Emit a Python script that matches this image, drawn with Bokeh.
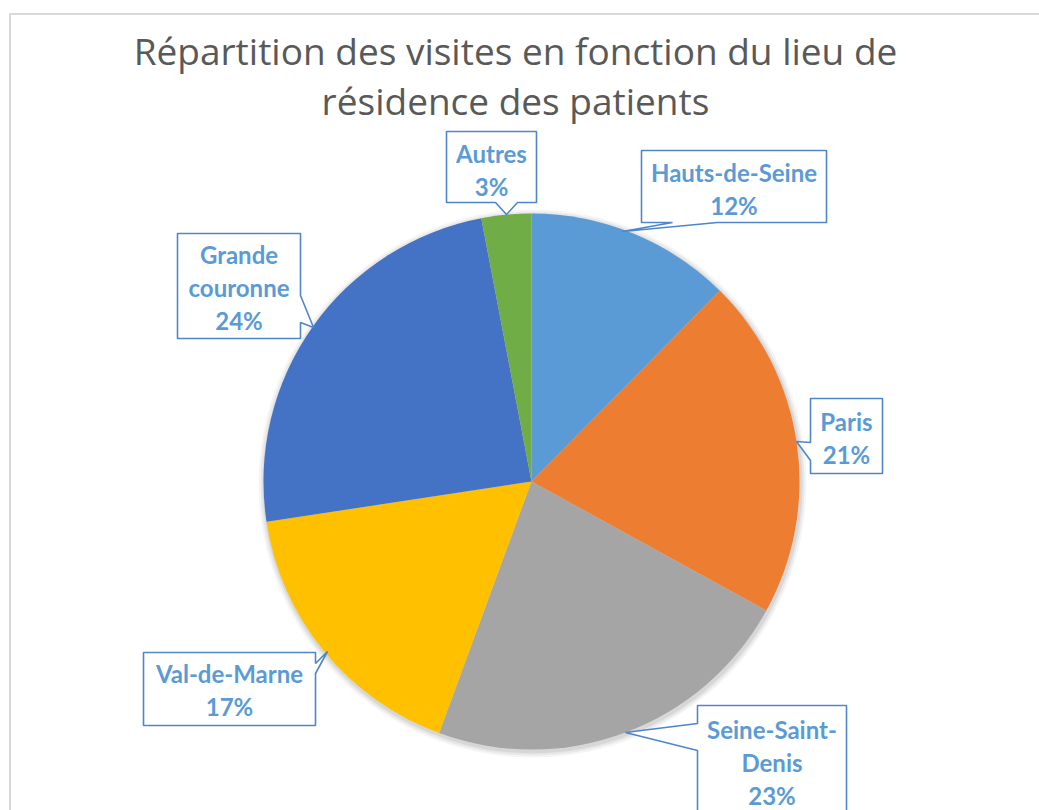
import math
from bokeh.plotting import figure
from bokeh.models import ColumnDataSource, Range1d
from bokeh.core.properties import value
from bokeh.embed import file_html
from bokeh.resources import INLINE

# ---- data ----
categories = ["Hauts-de-Seine", "Paris", "Seine-Saint-Denis", "Val-de-Marne", "Grande couronne", "Autres"]
shares = [12.4, 20.6, 22.6, 17.0, 24.4, 3.0]
colors = ["#5B9BD5", "#ED7D31", "#A5A5A5", "#FFC000", "#4472C4", "#70AD47"]
label_lines = [["Hauts-de-Seine"], ["Paris"], ["Seine-Saint-", "Denis"], ["Val-de-Marne"], ["Grande", "couronne"], ["Autres"]]
title_lines = ["Répartition des visites en fonction du lieu de", "résidence des patients"]

W, H = 1039, 810
def X(px): return px
def Y(py): return H - py

p = figure(width=W, height=H, output_backend="svg", toolbar_location=None,
           x_range=Range1d(0, W), y_range=Range1d(0, H), min_border=0)
p.axis.visible = False
p.grid.visible = False
p.outline_line_color = None
p.background_fill_color = "white"

# chart frame (top and left edges visible)
p.line([X(9.5), X(9.5), X(1039)], [Y(810), Y(13.5), Y(13.5)], line_color="#D9D9D9", line_width=2)

# pie
cx, cy, r = X(531), Y(481), 268
total = sum(shares)
starts, ends = [], []
cum = 0.0
for s in shares:
    starts.append(math.pi / 2 - 2 * math.pi * cum / total)
    cum += s
    ends.append(math.pi / 2 - 2 * math.pi * cum / total)

# soft shadow
for k, a in [(6, 0.04), (4, 0.05), (2, 0.07)]:
    p.circle(x=[cx + 1], y=[cy - 2], radius=r + k, fill_color="#000000", fill_alpha=a, line_color=None)

src = ColumnDataSource(dict(start=starts, end=ends, color=colors))
p.wedge(x=cx, y=cy, radius=r, start_angle="start", end_angle="end", direction="clock",
        fill_color="color", line_color=None, source=src)

# callouts: box (x0, y0, x1, y1) in px, side, pointer base (a, b), tip
callouts = [
    ((641, 150, 826, 222), "bottom", (672, 717), (622, 231)),
    ((810, 398, 882, 473), "left", (442, 460), (796, 441)),
    ((697, 705, 846, 830), "left", (723, 750), (625, 732)),
    ((143, 652, 315, 725), "right", (663, 673), (327, 651)),
    ((177, 233, 300, 338), "right", (295, 322), (313, 327)),
    ((446, 131, 536, 202), "bottom", (495, 517), (506, 214)),
]
line_h = 33
label_y_first = [172, 421, 729, 673, 254, 153]

xs_all, ys_all = [], []
tx, ty, tt = [], [], []
for i, ((x0, y0, x1, y1), side, (a, b), (tpx, tpy)) in enumerate(callouts):
    if side == "bottom":
        pts = [(x0, y0), (x1, y0), (x1, y1), (b, y1), (tpx, tpy), (a, y1), (x0, y1)]
    elif side == "left":
        pts = [(x0, y0), (x1, y0), (x1, y1), (x0, y1), (x0, b), (tpx, tpy), (x0, a)]
    else:
        pts = [(x0, y0), (x1, y0), (x1, a), (tpx, tpy), (x1, b), (x1, y1), (x0, y1)]
    xs_all.append([X(q[0]) for q in pts])
    ys_all.append([Y(q[1]) for q in pts])
    lines = label_lines[i] + [f"{round(shares[i] / total * 100)}%"]
    for j, t in enumerate(lines):
        tx.append(X((x0 + x1) / 2))
        ty.append(Y(label_y_first[i] + j * line_h))
        tt.append(t)

p.patches(xs=xs_all, ys=ys_all, fill_color="white", line_color="#4F86C9", line_width=1.6)
p.text(x=tx, y=ty, text=tt, text_align="center", text_baseline="middle",
       text_font=value("Lato"), text_font_style="bold", text_font_size="24px", text_color="#5B9BD5")

# title
p.text(x=[X(515), X(515)], y=[Y(50), Y(100)], text=title_lines, text_align="center", text_baseline="middle",
       text_font=value("Open Sans"), text_font_size="37px", text_color="#595959")

open("out.html", "w").write(file_html(p, INLINE))
